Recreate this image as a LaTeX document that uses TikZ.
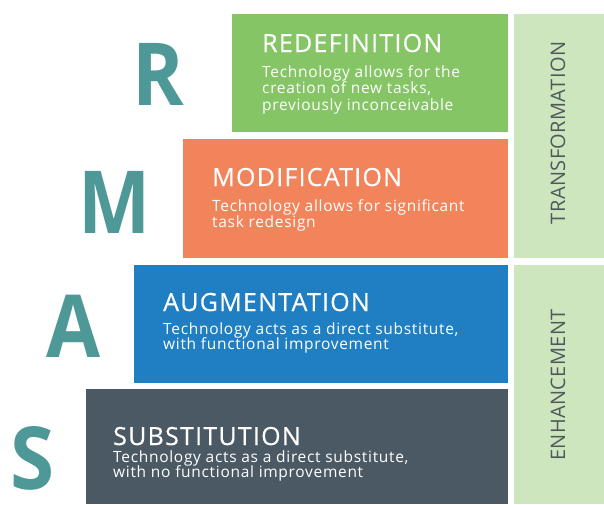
\documentclass[tikz,border=0pt]{standalone}
\usepackage{fontspec}
\setmainfont{Open Sans}
\newfontfamily\bigfont{Open Sans}
\newfontfamily\ttlfont[LetterSpace=5,FakeBold=0.4]{Open Sans}
\newfontfamily\bdyfont[LetterSpace=4.5]{Open Sans}
\newfontfamily\colfont[LetterSpace=2]{Open Sans}
\definecolor{cgreen}{RGB}{134,197,102}
\definecolor{corange}{RGB}{242,132,92}
\definecolor{cblue}{RGB}{31,127,194}
\definecolor{cdark}{RGB}{74,89,99}
\definecolor{clight}{RGB}{205,230,190}
\definecolor{cteal}{RGB}{78,152,152}
\definecolor{cgraytxt}{RGB}{80,90,92}
\tikzset{
  box/.style={draw=none, inner sep=0pt, outer sep=0pt},
  ttl/.style={anchor=base west, inner sep=0pt, text=white, font=\ttlfont\fontsize{25}{28}\selectfont},
  bdy/.style={anchor=base west, inner sep=0pt, text=white, font=\bdyfont\fontsize{15.5}{17}\selectfont},
  letter/.style={inner sep=0pt, text=cteal, text height=62pt, text depth=0pt, font=\bigfont\bfseries\fontsize{87}{90}\selectfont},
  coltxt/.style={rotate=90, inner sep=0pt, text=cgraytxt, font=\colfont\fontsize{20}{24}\selectfont}
}
\begin{document}
\begin{tikzpicture}[x=1pt,y=-1pt]
\useasboundingbox (0,0) rectangle (604,504);
% boxes
\fill[cgreen] (232,14) rectangle (508,132) node[box] (rbox) {};
\fill[corange] (183,139) rectangle (508,258) node[box] (mbox) {};
\fill[cblue] (134,265) rectangle (508,383) node[box] (abox) {};
\fill[cdark] (86,389) rectangle (508,504) node[box] (sbox) {};
\fill[clight] (514,14) rectangle (604,258) node[box] (tcol) {};
\fill[clight] (514,265) rectangle (604,504) node[box] (ecol) {};
% column labels
\node[coltxt] (ttxt) at (558,133) {TRANSFORMATION};
\node[coltxt] (etxt) at (558,385) {ENHANCEMENT};
% big letters (anchor at baseline)
\node[letter, anchor=base] (lr) at (158,105) {\scalebox{0.9}[1]{R}};
\node[letter, anchor=base] (lm) at (115,233) {\scalebox{0.88}[1]{M}};
\node[letter, anchor=base] (la) at (74,357) {\scalebox{0.9}[1]{A}};
\node[letter, anchor=base] (ls) at (33,489) {\scalebox{0.92}[1]{S}};
% redefinition
\node[ttl] (rt) at (262,52) {REDEFINITION};
\node[bdy] (rb1) at (262,77) {Technology allows for the};
\node[bdy] (rb2) at (262,93) {creation of new tasks,};
\node[bdy] (rb3) at (262,110) {previously inconceivable};
% modification
\node[ttl] (mt) at (212,186) {MODIFICATION};
\node[bdy] (mb1) at (212,211) {Technology allows for significant};
\node[bdy] (mb2) at (212,227) {task redesign};
% augmentation
\node[ttl] (at) at (163,311) {AUGMENTATION};
\node[bdy] (ab1) at (163,334) {Technology acts as a direct substitute,};
\node[bdy] (ab2) at (163,349) {with functional improvement};
% substitution
\node[ttl] (st) at (113,445) {SUBSTITUTION};
\node[bdy] (sb1) at (113,462) {Technology acts as a direct substitute,};
\node[bdy] (sb2) at (113,477) {with no functional improvement};
\end{tikzpicture}
\end{document}
